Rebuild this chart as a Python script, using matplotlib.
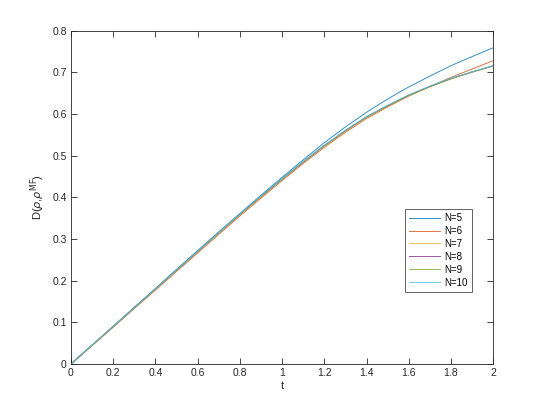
import matplotlib
matplotlib.use("Agg")
import matplotlib.pyplot as plt

# t axis samples
t = [0.0, 0.1, 0.2, 0.3, 0.4, 0.5, 0.6, 0.7, 0.8, 0.9, 1.0,
     1.1, 1.2, 1.3, 1.4, 1.5, 1.6, 1.7, 1.8, 1.9, 2.0]

# D(rho, rho^MF) for each N
d_n5 = [0, 0.045, 0.090, 0.136, 0.181, 0.227, 0.272, 0.317, 0.361, 0.405, 0.448,
        0.490, 0.531, 0.569, 0.604, 0.636, 0.665, 0.691, 0.716, 0.738, 0.759]
d_n6 = [0, 0.044, 0.088, 0.133, 0.177, 0.222, 0.266, 0.311, 0.355, 0.398, 0.440,
        0.481, 0.520, 0.556, 0.589, 0.617, 0.643, 0.666, 0.688, 0.708, 0.728]
d_n7 = [0, 0.044, 0.089, 0.134, 0.179, 0.224, 0.269, 0.314, 0.358, 0.401, 0.443,
        0.484, 0.523, 0.559, 0.592, 0.619, 0.644, 0.665, 0.684, 0.700, 0.715]
d_n8 = [0, 0.045, 0.090, 0.135, 0.180, 0.225, 0.270, 0.315, 0.359, 0.402, 0.444,
        0.485, 0.524, 0.560, 0.593, 0.620, 0.645, 0.666, 0.685, 0.701, 0.716]
d_n9 = [0, 0.045, 0.090, 0.135, 0.180, 0.225, 0.270, 0.315, 0.359, 0.402, 0.444,
        0.485, 0.524, 0.560, 0.593, 0.620, 0.645, 0.666, 0.685, 0.701, 0.715]
d_n10 = [0, 0.045, 0.090, 0.135, 0.180, 0.225, 0.270, 0.315, 0.360, 0.403, 0.445,
         0.486, 0.525, 0.561, 0.594, 0.621, 0.646, 0.667, 0.686, 0.701, 0.716]

series = [d_n5, d_n6, d_n7, d_n8, d_n9, d_n10]
labels = ["N=5", "N=6", "N=7", "N=8", "N=9", "N=10"]
colors = ["#0072BD", "#D95319", "#EDB120", "#7E2F8E", "#77AC30", "#4DBEEE"]

plt.rcParams["font.family"] = ["Liberation Sans", "DejaVu Sans"]
plt.rcParams["mathtext.fontset"] = "dejavusans"

fig = plt.figure(figsize=(5.45, 4.09), dpi=100)
ax = fig.add_axes([0.13, 0.11, 0.775, 0.815])

for vals, lab, col in zip(series, labels, colors):
    ax.plot(t, vals, color=col, lw=0.7, alpha=0.8, label=lab)

ax.set_xlim(0, 2)
ax.set_ylim(0, 0.8)
ax.set_xticks([0, 0.2, 0.4, 0.6, 0.8, 1, 1.2, 1.4, 1.6, 1.8, 2])
ax.set_xticklabels(["0", "0.2", "0.4", "0.6", "0.8", "1", "1.2", "1.4", "1.6", "1.8", "2"])
ax.set_yticks([0, 0.1, 0.2, 0.3, 0.4, 0.5, 0.6, 0.7, 0.8])
ax.set_yticklabels(["0", "0.1", "0.2", "0.3", "0.4", "0.5", "0.6", "0.7", "0.8"])

axcol = "#262626"
for s in ax.spines.values():
    s.set_color(axcol)
    s.set_linewidth(0.6)
ax.tick_params(direction="in", top=True, right=True, length=4, width=0.6,
               colors=axcol, labelsize=7.5, pad=3)

ax.set_xlabel("t", fontsize=8, color=axcol, labelpad=2)
ax.set_ylabel(r"D($\rho$,$\rho^{\rm MF}$)", fontsize=8, color=axcol, labelpad=4)

leg = ax.legend(loc="lower left", bbox_to_anchor=(0.791, 0.216), borderaxespad=0,
                fontsize=7, handlelength=3.2, handletextpad=0.35, labelspacing=0.3,
                borderpad=0.45, fancybox=False, framealpha=1)
leg.get_frame().set_edgecolor("#262626")
leg.get_frame().set_linewidth(0.5)

fig.savefig("out.png", dpi=100)
